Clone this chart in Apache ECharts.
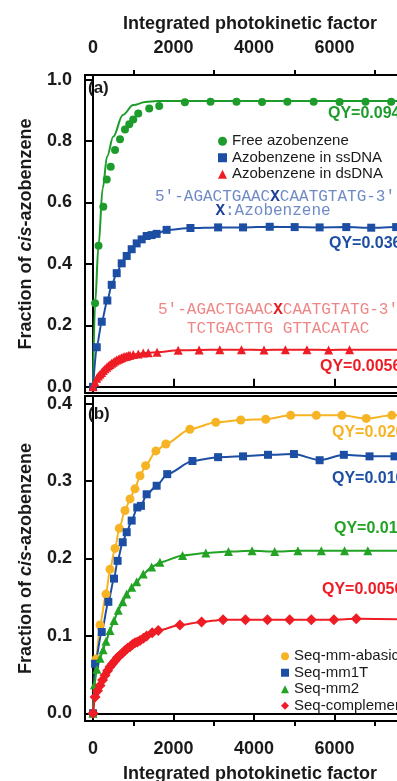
<!DOCTYPE html>
<html>
<head>
<meta charset="utf-8">
<script src="https://cdn.jsdelivr.net/npm/echarts@6/dist/echarts.min.js"></script>
<style>
  html, body { margin: 0; padding: 0; background: #fff; }
  #chart { width: 397px; height: 781px; }
</style>
</head>
<body>
<div id="chart"></div>
<script>
// axis ticks
const xMajor = [0, 2000, 4000, 6000, 8000]
const xLabels = [0, 2000, 4000, 6000]
const xMinor = [1000, 3000, 5000, 7000]
const yTicksA = [0, 0.2, 0.4, 0.6, 0.8, 1.0]
const yTicksB = [0, 0.1, 0.2, 0.3, 0.4]
const X_END = 8000

// panel (a)
const freeAzo = [[0, 0], [50, 0.272], [136, 0.459], [255, 0.586], [340, 0.675], [439, 0.716], [546, 0.771], [670, 0.806], [794, 0.838], [900, 0.855], [999, 0.87], [1123, 0.89], [1396, 0.906], [1644, 0.914], [2282, 0.926], [2919, 0.928], [3564, 0.928], [4199, 0.927], [4829, 0.928], [5481, 0.928], [6126, 0.927], [6770, 0.928], [7408, 0.928]]
const freeAzoFit = [[0, 0], [50, 0.27], [136, 0.46], [240, 0.646], [350, 0.75], [500, 0.814], [740, 0.885], [1000, 0.917], [1300, 0.927], [1600, 0.93], [8000, 0.93]]
const ssDNA = [[0, 0], [92, 0.129], [216, 0.212], [355, 0.281], [464, 0.332], [588, 0.37], [712, 0.402], [836, 0.426], [960, 0.448], [1084, 0.467], [1208, 0.48], [1332, 0.491], [1456, 0.494], [1580, 0.498], [1828, 0.511], [2420, 0.517], [3107, 0.519], [3727, 0.519], [4390, 0.521], [5010, 0.52], [5630, 0.519], [6292, 0.52], [6912, 0.518], [7532, 0.52]]
const dsDNA = [[0, 0], [50, 0.015], [92, 0.028], [133, 0.035], [174, 0.041], [215, 0.047], [255, 0.053], [298, 0.059], [340, 0.064], [381, 0.069], [422, 0.073], [462, 0.077], [503, 0.08], [545, 0.084], [588, 0.087], [630, 0.09], [670, 0.092], [710, 0.095], [751, 0.097], [793, 0.099], [836, 0.1], [877, 0.102], [918, 0.103], [999, 0.105], [1123, 0.107], [1247, 0.11], [1371, 0.111], [1590, 0.113], [2115, 0.119], [2636, 0.12], [3150, 0.121], [3688, 0.121], [4248, 0.12], [4779, 0.121], [5315, 0.121], [5853, 0.12], [6374, 0.121]]
const tailA = [0.52, 0.121]

// panel (b)
const mmAbasic = [[0, 0], [75, 0.07], [174, 0.114], [322, 0.154], [422, 0.186], [546, 0.213], [652, 0.239], [794, 0.262], [918, 0.277], [1042, 0.29], [1166, 0.307], [1307, 0.32], [1562, 0.339], [1810, 0.348], [2406, 0.367], [3050, 0.376], [3670, 0.379], [4290, 0.38], [4910, 0.385], [5548, 0.385], [6183, 0.385], [6788, 0.381], [7423, 0.385]]
const mm1T = [[0, 0], [50, 0.064], [216, 0.105], [380, 0.144], [521, 0.174], [610, 0.197], [737, 0.221], [836, 0.234], [960, 0.249], [1099, 0.266], [1190, 0.268], [1332, 0.283], [1580, 0.294], [1843, 0.309], [2470, 0.326], [3107, 0.331], [3727, 0.332], [4347, 0.334], [4992, 0.335], [5630, 0.327], [6232, 0.334], [6870, 0.332], [7490, 0.332]]
const mm2 = [[0, 0], [35, 0.037], [95, 0.057], [175, 0.071], [250, 0.082], [322, 0.093], [422, 0.107], [521, 0.12], [627, 0.133], [737, 0.144], [836, 0.154], [960, 0.163], [1084, 0.17], [1247, 0.18], [1456, 0.189], [1662, 0.195], [2225, 0.204], [2802, 0.207], [3365, 0.209], [3951, 0.21], [4514, 0.209], [5091, 0.21], [5672, 0.21], [6250, 0.21], [6827, 0.21]]
const complement = [[0, 0], [50, 0.021], [110, 0.029], [174, 0.036], [236, 0.043], [298, 0.049], [360, 0.055], [422, 0.06], [484, 0.064], [546, 0.068], [608, 0.072], [670, 0.075], [732, 0.078], [794, 0.081], [856, 0.084], [918, 0.086], [980, 0.089], [1042, 0.091], [1100, 0.092], [1166, 0.094], [1250, 0.097], [1332, 0.1], [1470, 0.104], [1620, 0.107], [2158, 0.114], [2696, 0.118], [3231, 0.121], [3787, 0.121], [4333, 0.121], [4886, 0.121], [5424, 0.121], [5984, 0.121], [6540, 0.122]]
const tailB = [0.385, 0.332, 0.21, 0.121]

const GREEN = '#1d9c2b'
const BLUE = '#1c4fa3'
const RED = '#ee1c24'
const YELLOW = '#f6b323'
const FONT = 'Liberation Sans, Arial, sans-serif'

const chart = echarts.init(document.getElementById('chart'))

// line through the points, carried on to the right edge
const curve = (name, pts, tail, color, symbol, size, idx) => ({
  name,
  type: 'line',
  xAxisIndex: idx,
  yAxisIndex: idx,
  data: pts.map((p) => ({ value: p })).concat([{ value: [X_END, tail], symbol: 'none' }]),
  smooth: 0.25,
  smoothMonotone: 'x',
  symbol,
  symbolSize: size,
  lineStyle: { color, width: 2 },
  itemStyle: { color },
})

const xBase = (gridIndex, position) => ({
  type: 'value',
  gridIndex,
  position,
  min: -200,
  max: 8000,
  splitLine: { show: false },
})

const majorX = (gridIndex, position, nameGap, margin) => ({
  ...xBase(gridIndex, position),
  name: 'Integrated photokinetic factor',
  nameLocation: 'middle',
  nameGap,
  nameTextStyle: { fontFamily: FONT, fontWeight: 'bold', fontSize: 18, color: '#1a1a1a' },
  axisLine: { lineStyle: { color: '#000', width: 2 } },
  axisTick: { customValues: xMajor, length: 8, lineStyle: { color: '#000', width: 2 } },
  axisLabel: {
    customValues: xLabels, margin, fontFamily: FONT, fontWeight: 'bold', fontSize: 18, color: '#1a1a1a',
    formatter: (v) => String(v),
  },
})

const minorX = (gridIndex, position) => ({
  ...xBase(gridIndex, position),
  axisLine: { show: false },
  axisTick: { customValues: xMinor, length: 5, lineStyle: { color: '#000', width: 2 } },
  axisLabel: { show: false },
})

const yAxisFor = (gridIndex, min, max, ticks) => ({
  type: 'value',
  gridIndex,
  min,
  max,
  splitLine: { show: false },
  name: 'Fraction of {i|cis}-azobenzene',
  nameLocation: 'middle',
  nameGap: 50,
  nameTextStyle: {
    fontFamily: FONT, fontWeight: 'bold', fontSize: 18, color: '#1a1a1a',
    rich: { i: { fontFamily: FONT, fontWeight: 'bold', fontStyle: 'italic', fontSize: 18, color: '#1a1a1a' } },
  },
  axisLine: { show: true, lineStyle: { color: '#000', width: 2 } },
  axisTick: { show: true, customValues: ticks, length: 8, lineStyle: { color: '#000', width: 2 } },
  axisLabel: {
    customValues: ticks, margin: 13, fontFamily: FONT, fontWeight: 'bold', fontSize: 18, color: '#1a1a1a',
    formatter: (v) => v.toFixed(1),
  },
})

const txt = (x, y, text, color, size) => ({
  type: 'text', x, y, z: 100,
  style: { text, fill: color, font: `bold ${size}px ${FONT}`, verticalAlign: 'middle' },
})

const seqRich = (base, xColor) => ({
  a: { fontFamily: 'Liberation Mono, monospace', fontSize: 16, fill: base, color: base },
  x: { fontFamily: 'Liberation Mono, monospace', fontSize: 16, fontWeight: 'bold', fill: xColor, color: xColor },
})

const option = {
  backgroundColor: '#fff',
  animation: false,
  grid: [
    { left: 85, top: 75, width: 330, height: 318, outerBoundsMode: 'none', containLabel: false, show: true, borderColor: '#000', borderWidth: 2, backgroundColor: 'transparent' },
    { left: 85, top: 396, width: 330, height: 325, outerBoundsMode: 'none', containLabel: false, show: true, borderColor: '#000', borderWidth: 2, backgroundColor: 'transparent' },
  ],
  xAxis: [
    majorX(0, 'top', 42, 18),
    majorX(1, 'bottom', 44, 19),
    minorX(0, 'top'),
    minorX(1, 'bottom'),
  ],
  yAxis: [
    yAxisFor(0, -0.02, 1.015, yTicksA),
    yAxisFor(1, -0.01, 0.41, yTicksB),
  ],
  legend: [
    {
      orient: 'vertical', left: 213, top: 128, itemGap: 0, itemWidth: 9, itemHeight: 9, selectedMode: false,
      textStyle: { fontFamily: FONT, fontSize: 15, color: '#1a1a1a', lineHeight: 16.5 },
      data: [
        { name: 'Free azobenzene', icon: 'circle' },
        { name: 'Azobenzene in ssDNA', icon: 'rect' },
        { name: 'Azobenzene in dsDNA', icon: 'triangle' },
      ],
    },
    {
      orient: 'vertical', left: 276, top: 643, itemGap: 0, itemWidth: 8, itemHeight: 8, selectedMode: false,
      textStyle: { fontFamily: FONT, fontSize: 15, color: '#1a1a1a', lineHeight: 16.5 },
      data: [
        { name: 'Seq-mm-abasic', icon: 'circle' },
        { name: 'Seq-mm1T', icon: 'rect' },
        { name: 'Seq-mm2', icon: 'triangle' },
        { name: 'Seq-complement', icon: 'diamond' },
      ],
    },
  ],
  series: [
    {
      name: 'fit', type: 'line', xAxisIndex: 0, yAxisIndex: 0, data: freeAzoFit,
      smooth: 0.35, smoothMonotone: 'x', symbol: 'none', lineStyle: { color: GREEN, width: 2 },
    },
    {
      name: 'Free azobenzene', type: 'scatter', xAxisIndex: 0, yAxisIndex: 0, data: freeAzo,
      symbol: 'circle', symbolSize: 8, itemStyle: { color: GREEN, opacity: 1 },
    },
    curve('Azobenzene in ssDNA', ssDNA, tailA[0], BLUE, 'rect', 8, 0),
    curve('Azobenzene in dsDNA', dsDNA, tailA[1], RED, 'triangle', 9, 0),
    curve('Seq-mm-abasic', mmAbasic, tailB[0], YELLOW, 'circle', 9, 1),
    curve('Seq-mm1T', mm1T, tailB[1], BLUE, 'rect', 8, 1),
    curve('Seq-mm2', mm2, tailB[2], '#22a324', 'triangle', 9, 1),
    curve('Seq-complement', complement, tailB[3], RED, 'diamond', 11, 1),
  ],
  graphic: [
    txt(88, 88, '(a)', '#1a1a1a', 17),
    txt(88, 414, '(b)', '#1a1a1a', 17),
    txt(328, 114, 'QY=0.094', GREEN, 16),
    txt(329, 244, 'QY=0.036', BLUE, 16),
    txt(320, 367, 'QY=0.0056', RED, 16),
    txt(332, 433, 'QY=0.020', YELLOW, 16),
    txt(332, 479, 'QY=0.016', BLUE, 16),
    txt(334, 529, 'QY=0.011', '#22a324', 16),
    txt(322, 590, 'QY=0.0056', RED, 16),
    {
      type: 'text', x: 155, y: 197, z: 100,
      style: { text: '{a|5′-AGACTGAAC}{x|X}{a|CAATGTATG-3′}', verticalAlign: 'middle', rich: seqRich('#6f8ac6', '#1c3f98') },
    },
    {
      type: 'text', x: 273, y: 211, z: 100,
      style: { text: '{x|X}{a|:Azobenzene}', align: 'center', verticalAlign: 'middle', rich: seqRich('#6f8ac6', '#1c3f98') },
    },
    {
      type: 'text', x: 158, y: 310, z: 100,
      style: { text: '{a|5′-AGACTGAAC}{x|X}{a|CAATGTATG-3′}', verticalAlign: 'middle', rich: seqRich('#f08585', '#e41e22') },
    },
    {
      type: 'text', x: 158, y: 329, z: 100,
      style: { text: '{a|   TCTGACTTG GTTACATAC}', verticalAlign: 'middle', rich: seqRich('#f08585', '#e41e22') },
    },
  ],
}

chart.setOption(option)

window.addEventListener('resize', () => {
  chart.resize()
})
</script>
</body>
</html>
